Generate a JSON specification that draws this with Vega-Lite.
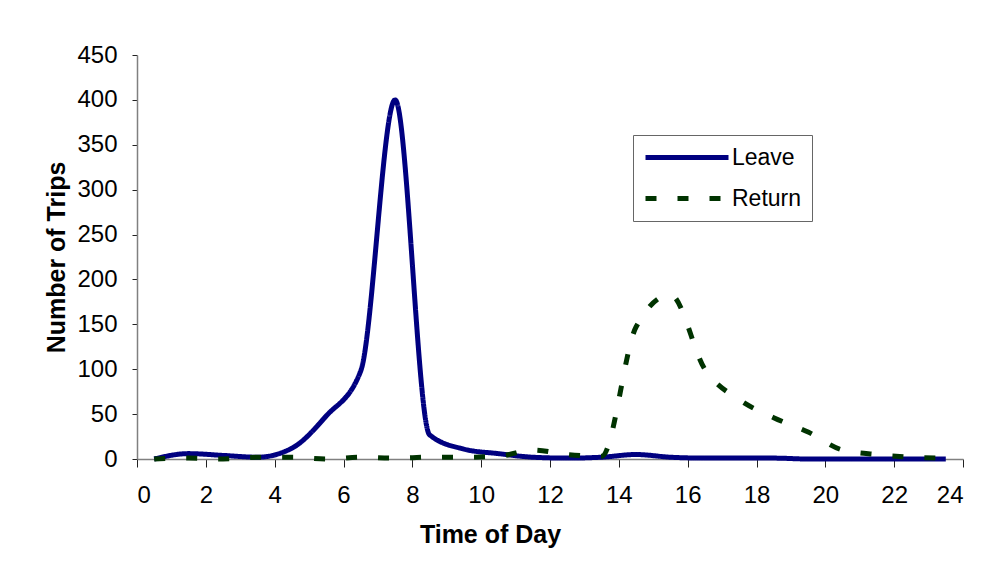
{
  "$schema": "https://vega.github.io/schema/vega-lite/v6.json",
  "width": 826,
  "height": 404,
  "autosize": {"type": "none"},
  "padding": {"left": 137, "top": 55, "right": 22, "bottom": 123},
  "background": "white",
  "config": {
    "view": {"stroke": null},
    "font": "Liberation Sans",
    "axis": {
      "grid": false,
      "domainColor": "#808080",
      "domainWidth": 1.5,
      "tickColor": "#222",
      "labelFont": "Liberation Sans",
      "labelFontSize": 24,
      "labelColor": "#000",
      "titleFont": "Liberation Sans",
      "titleFontSize": 25,
      "titleFontWeight": "bold",
      "titleColor": "#000"
    },
    "legend": {
      "orient": "none",
      "legendX": 496,
      "legendY": 80,
      "strokeColor": "#666",
      "fillColor": "white",
      "padding": 10,
      "labelFont": "Liberation Sans",
      "labelFontSize": 23,
      "labelColor": "#000",
      "labelOffset": 64,
      "symbolType": "M-1,0L7.3,0",
      "symbolSize": 400,
      "symbolStrokeWidth": 5,
      "rowPadding": 16
    }
  },
  "data": {
    "values": [
      {"hour": 0.5, "trips": 0, "series": "Leave"},
      {"hour": 1.5, "trips": 6, "series": "Leave"},
      {"hour": 2.5, "trips": 4, "series": "Leave"},
      {"hour": 3.5, "trips": 2, "series": "Leave"},
      {"hour": 4.5, "trips": 12, "series": "Leave"},
      {"hour": 5.5, "trips": 48, "series": "Leave"},
      {"hour": 6.5, "trips": 98, "series": "Leave"},
      {"hour": 7.5, "trips": 400, "series": "Leave"},
      {"hour": 8.5, "trips": 27, "series": "Leave"},
      {"hour": 9.5, "trips": 11, "series": "Leave"},
      {"hour": 10.5, "trips": 6, "series": "Leave"},
      {"hour": 11.5, "trips": 2, "series": "Leave"},
      {"hour": 12.5, "trips": 1, "series": "Leave"},
      {"hour": 13.5, "trips": 2, "series": "Leave"},
      {"hour": 14.5, "trips": 5, "series": "Leave"},
      {"hour": 15.5, "trips": 2, "series": "Leave"},
      {"hour": 16.5, "trips": 1, "series": "Leave"},
      {"hour": 17.5, "trips": 1, "series": "Leave"},
      {"hour": 18.5, "trips": 1, "series": "Leave"},
      {"hour": 19.5, "trips": 0, "series": "Leave"},
      {"hour": 20.5, "trips": 0, "series": "Leave"},
      {"hour": 21.5, "trips": 0, "series": "Leave"},
      {"hour": 22.5, "trips": 0, "series": "Leave"},
      {"hour": 23.5, "trips": 0, "series": "Leave"},
      {"hour": 0.5, "trips": 0, "series": "Return"},
      {"hour": 1.5, "trips": 1, "series": "Return"},
      {"hour": 2.5, "trips": 0, "series": "Return"},
      {"hour": 3.5, "trips": 2, "series": "Return"},
      {"hour": 4.5, "trips": 2, "series": "Return"},
      {"hour": 5.5, "trips": 0, "series": "Return"},
      {"hour": 6.5, "trips": 2, "series": "Return"},
      {"hour": 7.5, "trips": 1, "series": "Return"},
      {"hour": 8.5, "trips": 2, "series": "Return"},
      {"hour": 9.5, "trips": 2, "series": "Return"},
      {"hour": 10.5, "trips": 3, "series": "Return"},
      {"hour": 11.5, "trips": 10, "series": "Return"},
      {"hour": 12.5, "trips": 5, "series": "Return"},
      {"hour": 13.5, "trips": 3, "series": "Return"},
      {"hour": 14.5, "trips": 147, "series": "Return"},
      {"hour": 15.5, "trips": 183, "series": "Return"},
      {"hour": 16.5, "trips": 100, "series": "Return"},
      {"hour": 17.5, "trips": 66, "series": "Return"},
      {"hour": 18.5, "trips": 46, "series": "Return"},
      {"hour": 19.5, "trips": 30, "series": "Return"},
      {"hour": 20.5, "trips": 10, "series": "Return"},
      {"hour": 21.5, "trips": 5, "series": "Return"},
      {"hour": 22.5, "trips": 2, "series": "Return"},
      {"hour": 23.5, "trips": 1, "series": "Return"}
    ]
  },
  "mark": {"type": "line", "interpolate": "monotone", "strokeWidth": 5, "strokeCap": "butt"},
  "encoding": {
    "x": {
      "field": "hour",
      "type": "quantitative",
      "scale": {"domain": [0, 24], "nice": false, "zero": true},
      "axis": {
        "title": "Time of Day",
        "values": [0, 2, 4, 6, 8, 10, 12, 14, 16, 18, 20, 22, 24],
        "tickSize": 8,
        "labelPadding": 16,
        "titleX": 353,
        "titleY": 75,
        "titleAlign": "center",
        "titleBaseline": "middle",
        "titleAnchor": null
      }
    },
    "y": {
      "field": "trips",
      "type": "quantitative",
      "scale": {"domain": [0, 450], "nice": false},
      "axis": {
        "title": "Number of Trips",
        "values": [0, 50, 100, 150, 200, 250, 300, 350, 400, 450],
        "tickSize": 5,
        "labelPadding": 15,
        "titleX": -81,
        "titleY": 202,
        "titleAngle": -90,
        "titleAlign": "center",
        "titleBaseline": "middle",
        "titleAnchor": null
      }
    },
    "color": {
      "field": "series",
      "type": "nominal",
      "scale": {"domain": ["Leave", "Return"], "range": ["#000080", "#003300"]},
      "legend": {"title": null}
    },
    "strokeDash": {
      "field": "series",
      "type": "nominal",
      "scale": {"domain": ["Leave", "Return"], "range": [[1, 0], [11, 21]]},
      "legend": {"title": null}
    }
  }
}
